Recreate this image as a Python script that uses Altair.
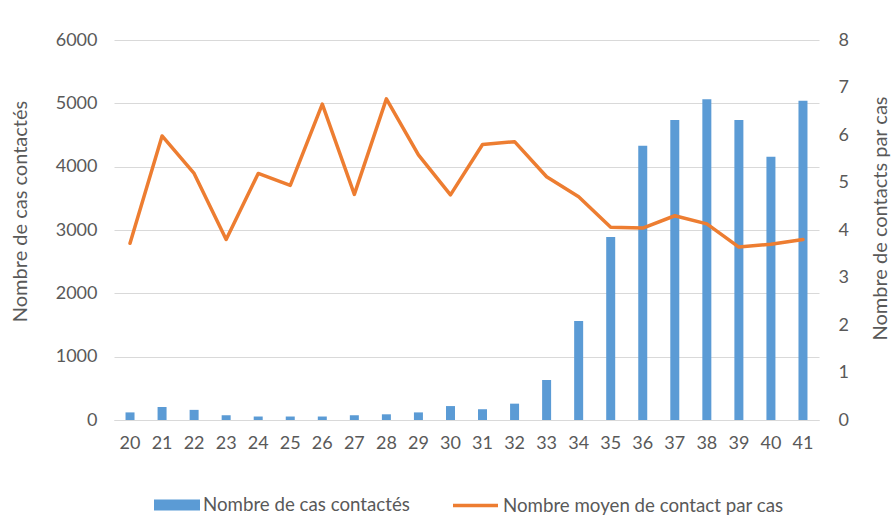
import altair as alt
import pandas as pd

# Semaines épidémiologiques
semaines = list(range(20, 42))
# Nombre de cas contactés par semaine
cas_contactes = [120, 205, 160, 75, 55, 55, 55, 75, 90, 120, 220, 170,
                 258, 632, 1563, 2890, 4331, 4737, 5063, 4737, 4158, 5042]
# Nombre moyen de contacts déclarés par cas
contacts_moyens = [3.72, 5.98, 5.19, 3.80, 5.19, 4.94, 6.65, 4.75, 6.76, 5.58, 4.74,
                   5.80, 5.86, 5.12, 4.70, 4.06, 4.04, 4.30, 4.13, 3.64, 3.70, 3.80]

serie_barres = "Nombre de cas contactés"
serie_ligne = "Nombre moyen de contact par cas"

df = pd.DataFrame({
    "semaine": semaines,
    "cas": cas_contactes,
    "moyenne": contacts_moyens,
    "serie_barres": serie_barres,
    "serie_ligne": serie_ligne,
})

FONT = "Lato"
GREY = "#595959"
GRID = "#d9d9d9"
BLUE = "#5B9BD5"
ORANGE = "#ED7D31"

x_enc = alt.X(
    "semaine:O",
    scale=alt.Scale(paddingInner=0, paddingOuter=0),
    axis=alt.Axis(title=None, labelAngle=0, ticks=False, grid=False,
                  domainColor=GRID, domainWidth=1, labelFont=FONT,
                  labelFontSize=18, labelColor=GREY, labelPadding=14),
)

barres = alt.Chart(df).mark_bar(size=9, color=BLUE).encode(
    x=x_enc,
    y=alt.Y(
        "cas:Q",
        scale=alt.Scale(domain=[0, 6000], nice=False),
        axis=alt.Axis(values=[0, 1000, 2000, 3000, 4000, 5000, 6000], format="d",
                      title=serie_barres, titleFont=FONT, titleFontSize=20,
                      titleFontWeight="normal", titleColor=GREY, titlePadding=25,
                      titleY=171,
                      labelFont=FONT, labelFontSize=18, labelColor=GREY,
                      labelPadding=17, domain=False, ticks=False,
                      grid=True, gridColor=GRID, gridWidth=1),
    ),
    color=alt.Color(
        "serie_barres:N",
        scale=alt.Scale(range=[BLUE]),
        legend=alt.Legend(orient="none", legendX=40, legendY=442, title=None,
                          symbolType="M-1,-0.24H1V0.24H-1Z", symbolSize=2116,
                          symbolStrokeWidth=0, labelFont=FONT, labelFontSize=18.7,
                          labelColor=GREY, labelOffset=3, labelLimit=500, padding=0),
    ),
)

ligne = alt.Chart(df).mark_line(strokeWidth=3.5, strokeJoin="round", strokeCap="round").encode(
    x=x_enc,
    y=alt.Y(
        "moyenne:Q",
        scale=alt.Scale(domain=[0, 8], nice=False),
        axis=alt.Axis(orient="right", values=list(range(0, 9)),
                      title="Nombre de contacts par cas", titleFont=FONT,
                      titleFontSize=20, titleFontWeight="normal", titleColor=GREY,
                      titleAngle=270, titleBaseline="top", titlePadding=22,
                      titleY=178,
                      labelFont=FONT, labelFontSize=18, labelColor=GREY,
                      labelPadding=19, domain=False, ticks=False, grid=False),
    ),
    stroke=alt.Stroke(
        "serie_ligne:N",
        scale=alt.Scale(range=[ORANGE]),
        legend=alt.Legend(orient="none", legendX=337, legendY=441, title=None,
                          symbolType="stroke", symbolSize=2025, symbolStrokeWidth=3.5,
                          labelFont=FONT, labelFontSize=18.7, labelColor=GREY,
                          labelOffset=3, labelLimit=500, padding=0),
    ),
)

chart = alt.layer(barres, ligne).resolve_scale(
    y="independent", color="independent", stroke="independent"
).resolve_legend(color="independent", stroke="independent").properties(
    width=705,
    height=380,
    autosize=alt.AutoSizeParams(type="none"),
    padding={"left": 114, "top": 40, "right": 77, "bottom": 96},
    background="white",
).configure_view(stroke=None)

chart.save("out.html", embed_options={"renderer": "svg", "actions": False})
